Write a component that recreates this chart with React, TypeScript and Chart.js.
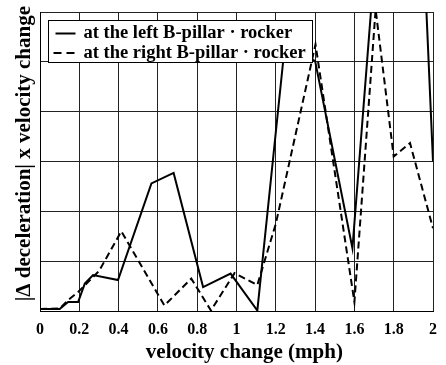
import React, { useEffect, useRef } from "react";
import { Chart, registerables } from "chart.js";

Chart.register(...registerables);

// Data
const leftX = [0, 0.1, 0.143, 0.194, 0.228, 0.27, 0.397, 0.567, 0.68, 0.83, 0.97, 1.106, 1.245, 1.4, 1.59, 1.7, 1.9, 2.0];
const leftY = [0.04, 0.04, 0.18, 0.18, 0.55, 0.72, 0.62, 2.56, 2.77, 0.48, 0.75, 0.01, 5.3, 5.02, 1.26, 6.8, 12, 3.0];

const rightX = [0, 0.1, 0.143, 0.194, 0.3, 0.414, 0.633, 0.77, 0.87, 0.99, 1.106, 1.2, 1.402, 1.6, 1.708, 1.8, 1.883, 2.0];
const rightY = [0.04, 0.05, 0.22, 0.38, 0.8, 1.6, 0.11, 0.65, 0.01, 0.76, 0.52, 1.75, 5.35, 0.18, 6.05, 3.1, 3.37, 1.66];

const xTickValues = [0, 0.2, 0.4, 0.6, 0.8, 1, 1.2, 1.4, 1.6, 1.8, 2];
const xTickLabels = ["0", "0.2", "0.4", "0.6", "0.8", "1", "1.2", "1.4", "1.6", "1.8", "2"];
const yTickValues = [0, 1, 2, 3, 4, 5, 6];

const seriesLabels = ["at the left B-pillar \u00b7 rocker", "at the right B-pillar \u00b7 rocker"];
const xTitle = "   velocity change (mph)";
const yTitle = "   |\u0394 deceleration| x velocity change";

const FONT = '"Liberation Serif", "DejaVu Serif", serif';

const boxLegend = {
  id: "boxLegend",
  afterDatasetsDraw(chart: any) {
    const { ctx, chartArea } = chart;
    const x0 = chartArea.left + 8.5;
    const y0 = chartArea.top + 8.5;
    const w = 264;
    const h = 42;
    ctx.save();
    ctx.fillStyle = "#fff";
    ctx.fillRect(x0, y0, w, h);
    ctx.strokeStyle = "#000";
    ctx.lineWidth = 1;
    ctx.setLineDash([]);
    ctx.strokeRect(x0, y0, w, h);
    ctx.font = `bold 18.5px ${FONT}`;
    ctx.textBaseline = "middle";
    ctx.textAlign = "left";
    chart.data.datasets.forEach((ds: any, i: number) => {
      const cy = y0 + 13 + i * 19.5;
      ctx.strokeStyle = "#000";
      ctx.lineWidth = 2;
      ctx.setLineDash(i === 0 ? [] : [8, 5]);
      ctx.beginPath();
      ctx.moveTo(x0 + (i === 0 ? 7 : 5), cy);
      ctx.lineTo(x0 + 27, cy);
      ctx.stroke();
      ctx.setLineDash([]);
      ctx.fillStyle = "#000";
      ctx.fillText(ds.label, x0 + 35, cy);
    });
    ctx.restore();
  },
};

export default function App() {
  const ref = useRef<HTMLCanvasElement | null>(null);

  useEffect(() => {
    if (!ref.current) return;
    const left = leftX.map((x, i) => ({ x, y: leftY[i] }));
    const right = rightX.map((x, i) => ({ x, y: rightY[i] }));
    const chart = new Chart(ref.current, {
      type: "line",
      data: {
        datasets: [
          {
            label: seriesLabels[0],
            data: left,
            borderColor: "#000",
            borderWidth: 2,
            pointRadius: 0,
            tension: 0,
            fill: false,
          },
          {
            label: seriesLabels[1],
            data: right,
            borderColor: "#000",
            borderWidth: 2,
            borderDash: [7, 4],
            pointRadius: 0,
            tension: 0,
            fill: false,
          },
        ],
      },
      options: {
        animation: false,
        responsive: false,
        devicePixelRatio: 1,
        layout: { padding: { top: 12, right: 11, left: 0, bottom: 0 } },
        plugins: {
          legend: { display: false },
          tooltip: { enabled: false },
        },
        scales: {
          x: {
            type: "linear",
            min: 0,
            max: 2,
            afterBuildTicks: (scale: any) => {
              scale.ticks = xTickValues.map((v) => ({ value: v }));
            },
            afterFit: (scale: any) => {
              scale.height = 54;
            },
            ticks: {
              color: "#000",
              padding: 9,
              maxRotation: 0,
              autoSkip: false,
              font: { family: FONT, size: 16, weight: "bold" },
              callback: (_v: any, i: number) => xTickLabels[i],
            },
            grid: { color: "#222", lineWidth: 1, drawTicks: false },
            border: { display: true, color: "#000", width: 1 },
            title: {
              display: true,
              text: xTitle,
              color: "#000",
              font: { family: FONT, size: 21, weight: "bold" },
              padding: { top: 0, bottom: 0 },
            },
          },
          y: {
            type: "linear",
            min: 0,
            max: 6,
            afterBuildTicks: (scale: any) => {
              scale.ticks = yTickValues.map((v) => ({ value: v }));
            },
            afterFit: (scale: any) => {
              scale.width = 40;
            },
            ticks: { display: false },
            grid: { color: "#222", lineWidth: 1, drawTicks: false },
            border: { display: true, color: "#000", width: 1 },
            title: {
              display: true,
              text: yTitle,
              color: "#000",
              font: { family: FONT, size: 21, weight: "bold" },
              padding: { top: 12, bottom: 0 },
            },
          },
        },
      },
      plugins: [boxLegend],
    });
    return () => chart.destroy();
  }, []);

  return (
    <div style={{ position: "fixed", left: 0, top: 0, width: 446, height: 365, background: "#fff" }}>
      <canvas ref={ref} width={446} height={365} style={{ display: "block" }} />
    </div>
  );
}
